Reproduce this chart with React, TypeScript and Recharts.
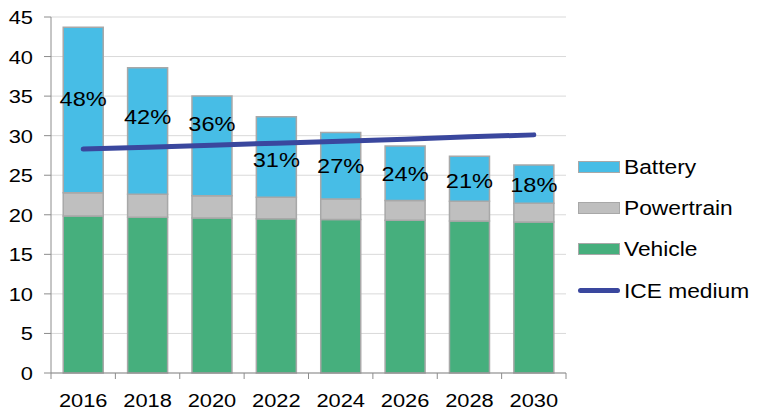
import React from "react";
import {
  ComposedChart,
  Bar,
  Line,
  XAxis,
  YAxis,
  CartesianGrid,
  LabelList,
} from "recharts";

const years = ["2016", "2018", "2020", "2022", "2024", "2026", "2028", "2030"];
const vehicle = [19.85, 19.7, 19.6, 19.5, 19.4, 19.3, 19.2, 19.1];
const powertrain = [2.95, 2.9, 2.8, 2.7, 2.6, 2.5, 2.5, 2.35];
const battery = [20.9, 16.0, 12.6, 10.2, 8.4, 6.9, 5.7, 4.85];
const iceMedium = [28.3, 28.55, 28.8, 29.05, 29.3, 29.55, 29.85, 30.1];
const batteryShare = ["48%", "42%", "36%", "31%", "27%", "24%", "21%", "18%"];
// where each share label sits, in axis units
const shareLabelAt = [34.6, 32.4, 31.5, 26.9, 26.1, 25.2, 24.3, 23.8];
const yTicks = [0, 5, 10, 15, 20, 25, 30, 35, 40, 45];

const data = years.map((year, i) => ({
  year,
  vehicle: vehicle[i],
  powertrain: powertrain[i],
  battery: battery[i],
  ice: iceMedium[i],
  labelAt: shareLabelAt[i],
  share: batteryShare[i],
}));

const FONT = '"Liberation Sans", Arial, sans-serif';
const STRETCH = 1.15; // the original text is a bit wide
const LEGEND_STRETCH = 1.11;
const WIDTH = 757;
const HEIGHT = 413;
const MARGIN = { top: 17, right: 191, left: 0, bottom: 0 };
const Y_AXIS_W = 51;
const BAND = (WIDTH - MARGIN.left - MARGIN.right - Y_AXIS_W) / years.length;

const colors = {
  battery: "#47bde6",
  powertrain: "#bfbfbf",
  vehicle: "#46af7d",
  ice: "#3a479e",
  border: "#a8a8a8",
  axis: "#8c8c8c",
  grid: "#d9d9d9",
};

const legendItems = [
  { name: "Battery", color: colors.battery, kind: "rect" },
  { name: "Powertrain", color: colors.powertrain, kind: "rect" },
  { name: "Vehicle", color: colors.vehicle, kind: "rect" },
  { name: "ICE medium", color: colors.ice, kind: "line" },
];

const WideText = ({ x, y, size, anchor, baseline, children }: any) => (
  <text
    transform={`translate(${x},${y}) scale(${STRETCH},1)`}
    textAnchor={anchor}
    dominantBaseline={baseline}
    fontSize={size}
    fontFamily={FONT}
    fill="#000"
  >
    {children}
  </text>
);

const XTick = (props: any) => {
  const { x, y, payload, index } = props;
  const left = x - BAND / 2;
  const right = x + BAND / 2;
  return (
    <g>
      <line x1={left} y1={y} x2={left} y2={y + 6} stroke={colors.axis} />
      {index === years.length - 1 && (
        <line x1={right} y1={y} x2={right} y2={y + 6} stroke={colors.axis} />
      )}
      <WideText x={x} y={y + 34} size={19} anchor="middle">
        {payload.value}
      </WideText>
    </g>
  );
};

const YTick = (props: any) => {
  const { x, y, payload } = props;
  return (
    <WideText x={x} y={y} size={19} anchor="end" baseline="central">
      {payload.value}
    </WideText>
  );
};

const ShareLabel = (props: any) => {
  const { x, y, value } = props;
  return (
    <WideText x={x} y={y} size={20.5} anchor="middle" baseline="central">
      {value}
    </WideText>
  );
};

const LegendBox = () => (
  <div
    style={{
      position: "absolute",
      left: 578,
      top: 146,
      fontFamily: FONT,
      fontSize: 20.5,
      color: "#000",
    }}
  >
    {legendItems.map((item) => (
      <div
        key={item.name}
        style={{ display: "flex", alignItems: "center", height: 41.4 }}
      >
        {item.kind === "rect" ? (
          <div
            style={{
              width: 40,
              height: 10,
              background: item.color,
              border: `1px solid ${colors.border}`,
            }}
          />
        ) : (
          <div
            style={{
              width: 42,
              height: 5,
              background: item.color,
              borderRadius: 3,
            }}
          />
        )}
        <span
          style={{
            marginLeft: 4,
            whiteSpace: "nowrap",
            display: "inline-block",
            transform: `scaleX(${LEGEND_STRETCH})`,
            transformOrigin: "left center",
          }}
        >
          {item.name}
        </span>
      </div>
    ))}
  </div>
);

const App = () => {
  return (
    <div
      style={{
        position: "absolute",
        left: 0,
        top: 0,
        width: WIDTH,
        height: HEIGHT,
        background: "#fff",
      }}
    >
      <ComposedChart
        width={WIDTH}
        height={HEIGHT}
        data={data}
        margin={MARGIN}
        barCategoryGap="19%"
      >
        <CartesianGrid vertical={false} stroke={colors.grid} />
        <XAxis
          dataKey="year"
          height={40}
          tickSize={0}
          tickMargin={0}
          tickLine={false}
          axisLine={{ stroke: colors.axis }}
          tick={<XTick />}
          interval={0}
        />
        <YAxis
          width={Y_AXIS_W}
          domain={[0, 45]}
          ticks={yTicks}
          interval={0}
          tickSize={7}
          tickMargin={11}
          axisLine={{ stroke: colors.axis }}
          tickLine={{ stroke: colors.axis }}
          tick={<YTick />}
        />
        <Bar
          dataKey="vehicle"
          name="Vehicle"
          stackId="a"
          fill={colors.vehicle}
          stroke={colors.border}
          strokeWidth={1.5}
          isAnimationActive={false}
        />
        <Bar
          dataKey="powertrain"
          name="Powertrain"
          stackId="a"
          fill={colors.powertrain}
          stroke={colors.border}
          strokeWidth={1.5}
          isAnimationActive={false}
        />
        <Bar
          dataKey="battery"
          name="Battery"
          stackId="a"
          fill={colors.battery}
          stroke={colors.border}
          strokeWidth={1.5}
          isAnimationActive={false}
        />
        <Line
          dataKey="ice"
          name="ICE medium"
          stroke={colors.ice}
          strokeWidth={5}
          strokeLinecap="round"
          dot={false}
          activeDot={false}
          isAnimationActive={false}
        />
        <Line
          dataKey="labelAt"
          stroke="none"
          dot={false}
          activeDot={false}
          legendType="none"
          isAnimationActive={false}
        >
          <LabelList dataKey="share" content={<ShareLabel />} />
        </Line>
      </ComposedChart>
      <LegendBox />
    </div>
  );
};

export default App;
